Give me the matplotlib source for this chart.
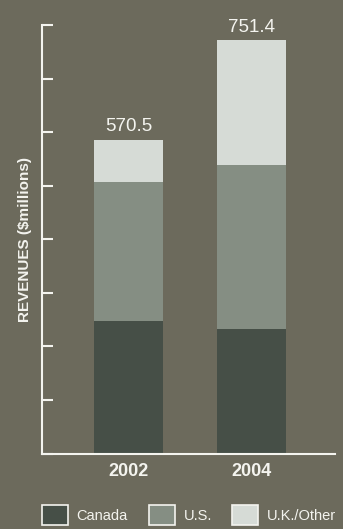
import matplotlib
matplotlib.use("Agg")
import matplotlib.pyplot as plt
import numpy as np

# --- Datos ---
years = ["2002", "2004"]
canada = [240.0, 227.0]
us = [254.0, 297.0]
uk_other = [76.5, 227.4]
totals = [570.5, 751.4]
series_names = ["Canada", "U.S.", "U.K./Other"]

# --- Estilo ---
BG = "#6c6a5c"
COLORS = ["#464f47", "#858e83", "#d6dbd6"]
WHITE = "#f4f4ef"
plt.rcParams["font.family"] = ["Liberation Sans", "DejaVu Sans"]

fig = plt.figure(figsize=(3.43, 5.29), dpi=100, facecolor=BG)
ax = fig.add_axes([42 / 343, 75.5 / 529, 293 / 343, 428.5 / 529])
ax.set_facecolor(BG)

x = np.arange(len(years))
width = 0.561
bottom = np.zeros(len(years))
for vals, color, name in zip([canada, us, uk_other], COLORS, series_names):
    ax.bar(x, vals, width, bottom=bottom, color=color, label=name, zorder=2)
    bottom += np.array(vals)

# etiquetas con el total encima de cada barra
for xi, tot in zip(x, totals):
    ax.annotate(f"{tot:.1f}", (xi, tot), xytext=(0, 6), textcoords="offset points",
                ha="center", va="baseline", color=WHITE, fontsize=13.5)

ax.set_xlim(-0.703, 1.679)
ax.set_ylim(0, 779)
ax.set_yticks(np.linspace(0, 779, 9))
ax.set_yticklabels([])
ax.set_xticks(x)
ax.set_xticklabels(years, fontsize=13, fontweight="bold", color=WHITE)

for side in ["top", "right"]:
    ax.spines[side].set_visible(False)
for side in ["left", "bottom"]:
    ax.spines[side].set_color(WHITE)
    ax.spines[side].set_linewidth(1.5)
    ax.spines[side].set_zorder(3)

ax.tick_params(axis="y", direction="in", length=8, width=1.5, color=WHITE)
ax.tick_params(axis="x", length=0, pad=7)
ax.set_ylabel("REVENUES ($millions)", fontsize=11, fontweight="bold",
              color=WHITE, labelpad=4)

handles, labels = ax.get_legend_handles_labels()
leg = fig.legend(handles, labels, loc="upper left", bbox_to_anchor=(42 / 343, 24 / 529),
                 ncol=3, frameon=False, fontsize=10.5, labelcolor=WHITE,
                 handlelength=1.78, handleheight=1.78, handletextpad=0.6,
                 columnspacing=1.42, borderpad=0, borderaxespad=0)
for patch in leg.get_patches():
    patch.set_edgecolor(WHITE)
    patch.set_linewidth(1.2)

fig.savefig("out.png", dpi=100, facecolor=BG)
